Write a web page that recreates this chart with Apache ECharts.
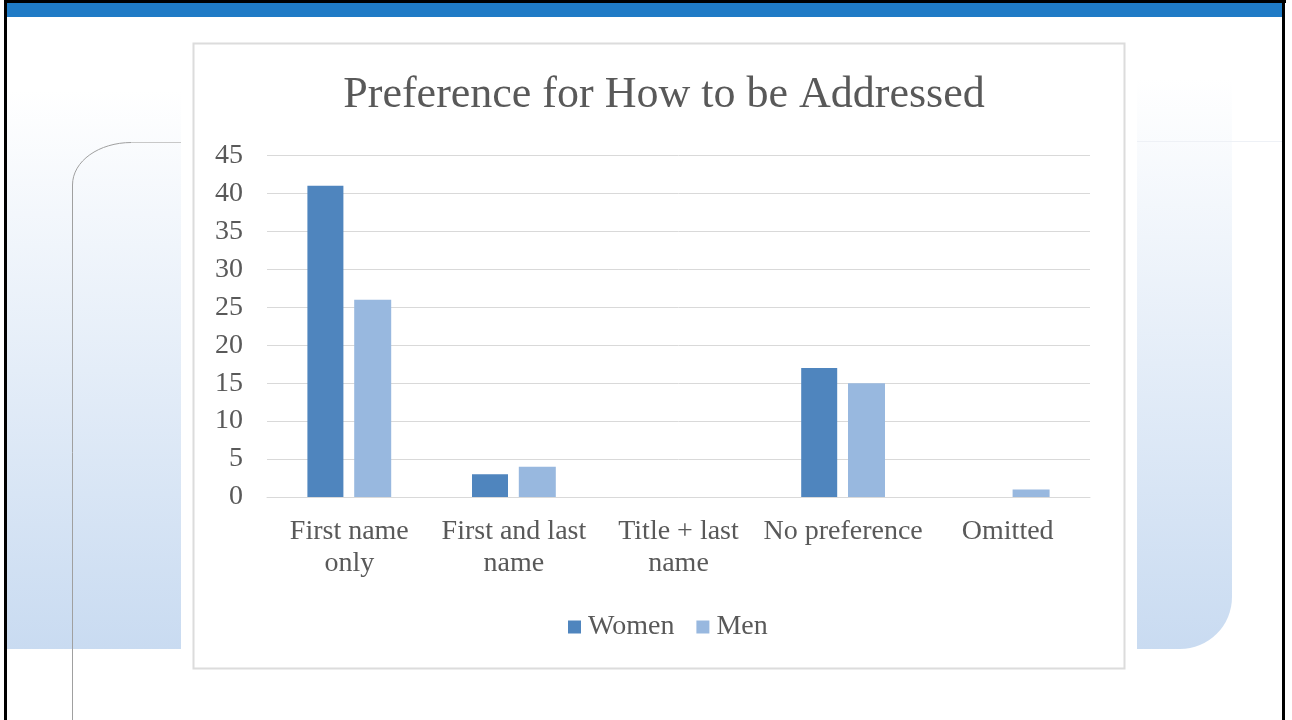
<!DOCTYPE html>
<html><head><meta charset="utf-8">
<style>html,body{margin:0;padding:0;background:#fff;}#c{width:1292px;height:720px;}</style>
<script src="https://cdn.jsdelivr.net/npm/echarts@6/dist/echarts.min.js"></script>
</head><body><div id="c"></div>
<script>
const categories = ['First name\nonly', 'First and last\nname', 'Title + last\nname', 'No preference', 'Omitted'];
const women = [41, 3, 0, 17, 0];
const men = [26, 4, 0, 15, 1];
const seriesNames = ['Women', 'Men'];
const titleText = 'Preference for How to be Addressed';

const chart = echarts.init(document.getElementById('c'), null, {renderer: 'canvas'});
const serif = '"Liberation Serif", "DejaVu Serif", serif';
const grad = (a, b) => new echarts.graphic.LinearGradient(0, 0, 0, 1, [{offset: 0, color: a}, {offset: 1, color: b}]);
chart.setOption({
  backgroundColor: '#ffffff',
  animation: false,
  graphic: [
    {type: 'rect', z: -10, shape: {x: 7, y: 90, width: 174, height: 559}, style: {fill: grad('#ffffff', '#c9dbf1')}},
    {type: 'rect', z: -10, shape: {x: 1137, y: 78, width: 95, height: 571, r: [0, 0, 52, 0]}, style: {fill: grad('#ffffff', '#c9dbf1')}},
    {type: 'line', z: -9, shape: {x1: 1137, y1: 141.5, x2: 1282, y2: 141.5}, style: {stroke: '#eef1f6', lineWidth: 1}},
    {type: 'line', z: -9, shape: {x1: 72.5, y1: 720, x2: 72.5, y2: 185}, style: {stroke: '#a0a0a0', lineWidth: 1}},
    {type: 'bezierCurve', z: -9, shape: {x1: 72.5, y1: 185, cpx1: 72.5, cpy1: 161, cpx2: 99, cpy2: 142.5, x2: 131.5, y2: 142.5}, style: {fill: null, stroke: '#a0a0a0', lineWidth: 1}},
    {type: 'line', z: -9, shape: {x1: 131.5, y1: 142.5, x2: 181, y2: 142.5}, style: {stroke: '#c8c8c8', lineWidth: 1}},
    {type: 'rect', z: -8, shape: {x: 193.5, y: 43.5, width: 931, height: 625}, style: {fill: '#ffffff', stroke: '#dcdcdc', lineWidth: 2}},
    {type: 'rect', z: 10, shape: {x: 4, y: 0, width: 1282, height: 3}, style: {fill: '#000'}},
    {type: 'rect', z: 10, shape: {x: 4, y: 0, width: 3, height: 720}, style: {fill: '#000'}},
    {type: 'rect', z: 10, shape: {x: 1282, y: 0, width: 3, height: 720}, style: {fill: '#000'}},
    {type: 'rect', z: 10, shape: {x: 7, y: 3, width: 1275, height: 14}, style: {fill: '#1f7bc6'}}
  ],
  title: {
    text: titleText, left: 659, top: 68, textAlign: 'center',
    textStyle: {fontFamily: serif, fontSize: 44, fontWeight: 'normal', color: '#595959'}
  },
  legend: {
    data: seriesNames, left: 563, top: 608, itemWidth: 13, itemHeight: 13, itemGap: 22,
    icon: 'rect',
    textStyle: {fontFamily: serif, fontSize: 28, color: '#595959', padding: [0, 0, 0, 2]}
  },
  grid: {left: 267, right: 202, top: 155.5, bottom: 223},
  xAxis: {
    type: 'category', data: categories,
    axisTick: {show: false},
    axisLine: {lineStyle: {color: '#d9d9d9', width: 1}},
    axisLabel: {fontFamily: serif, fontSize: 28, color: '#595959', margin: 19, lineHeight: 32, interval: 0}
  },
  yAxis: {
    type: 'value', min: 0, max: 45, interval: 5,
    axisLine: {show: false}, axisTick: {show: false},
    splitLine: {lineStyle: {color: '#d9d9d9', width: 1}},
    axisLabel: {fontFamily: serif, fontSize: 28, color: '#595959', margin: 24}
  },
  series: [
    {name: seriesNames[0], type: 'bar', data: women, barWidth: 36, barGap: '30%', itemStyle: {color: '#4f85be'}},
    {name: seriesNames[1], type: 'bar', data: men, barWidth: 37, itemStyle: {color: '#98b8df'}}
  ]
});
</script></body></html>
